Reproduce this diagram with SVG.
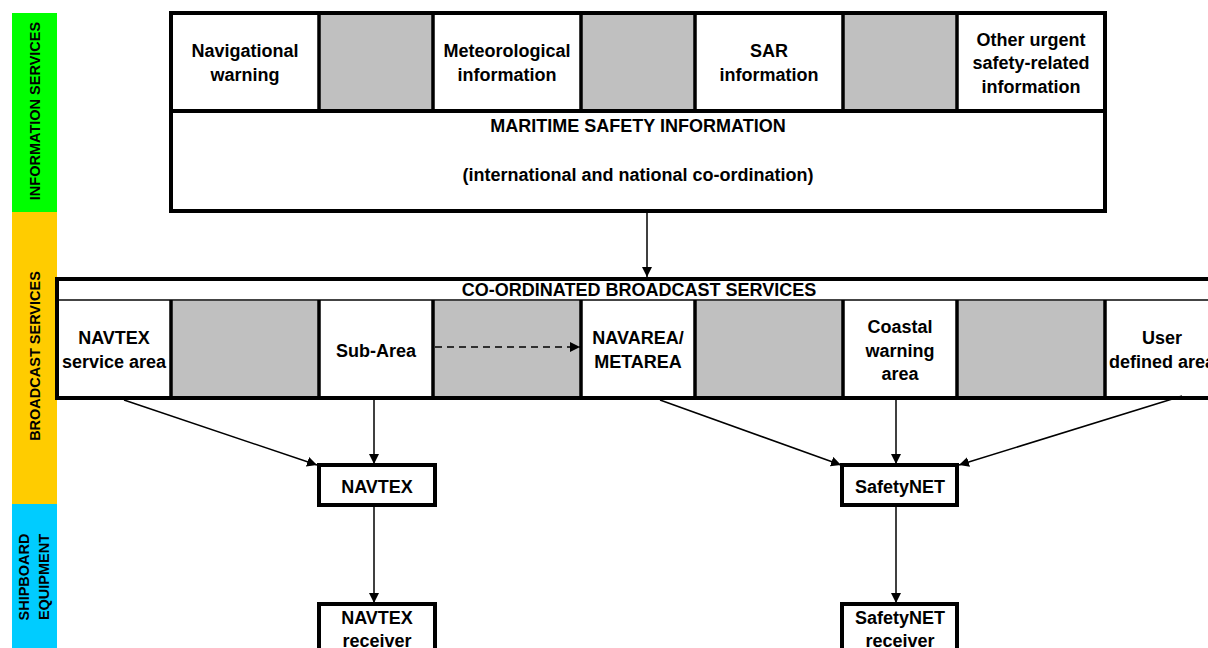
<svg xmlns="http://www.w3.org/2000/svg" width="1208" height="648" viewBox="0 0 1208 648">
<defs>
<style>
text{font-family:"Liberation Sans",Arial,sans-serif;font-weight:bold;fill:#000;text-anchor:middle}
.t{font-size:18px}
.side{font-size:14.5px}
.box{fill:#fff;stroke:#000;stroke-width:4}
.gray{fill:#c0c0c0}
.div{stroke:#000;stroke-width:3.5;fill:none}
.con{stroke:#000;stroke-width:1.5;fill:none}
</style>
<marker id="ah" viewBox="0 0 10 10" refX="10" refY="5" markerWidth="10" markerHeight="10" markerUnits="userSpaceOnUse" orient="auto">
<path d="M0,0 L10,5 L0,10 z" fill="#000"/>
</marker>
</defs>
<rect width="1208" height="648" fill="#fff"/>
<g id="bands">
<rect x="12" y="13" width="45" height="199" fill="#00ff00"/>
<rect x="12" y="212" width="45" height="292" fill="#ffcc00"/>
<rect x="12" y="504" width="45" height="144" fill="#00ccff"/>
<text class="side" transform="translate(40,111) rotate(-90)">INFORMATION SERVICES</text>
<text class="side" transform="translate(40,356) rotate(-90)">BROADCAST SERVICES</text>
<text class="side" transform="translate(29,577) rotate(-90)">SHIPBOARD</text>
<text class="side" transform="translate(49,577) rotate(-90)">EQUIPMENT</text>
</g>
<g id="msi">
<rect class="box" x="171" y="13" width="934" height="198"/>
<rect class="gray" x="319" y="13" width="114" height="98"/>
<rect class="gray" x="581" y="13" width="114" height="98"/>
<rect class="gray" x="843" y="13" width="114" height="98"/>
<path class="div" d="M319,13V111M433,13V111M581,13V111M695,13V111M843,13V111M957,13V111"/>
<path d="M171,111H1105" stroke="#000" stroke-width="4"/>
<rect x="171" y="13" width="934" height="198" fill="none" stroke="#000" stroke-width="4"/>
<text class="t" x="245" y="57">Navigational</text>
<text class="t" x="245" y="81">warning</text>
<text class="t" x="507" y="57">Meteorological</text>
<text class="t" x="507" y="81">information</text>
<text class="t" x="769" y="57">SAR</text>
<text class="t" x="769" y="81">information</text>
<text class="t" x="1031" y="46">Other urgent</text>
<text class="t" x="1031" y="69">safety-related</text>
<text class="t" x="1031" y="93">information</text>
<text class="t" x="638" y="132">MARITIME SAFETY INFORMATION</text>
<text class="t" x="638" y="181">(international and national co-ordination)</text>
</g>
<g id="broadcast">
<rect class="box" x="57" y="279" width="1165" height="119"/>
<rect class="gray" x="171" y="300" width="148" height="98"/>
<rect class="gray" x="433" y="300" width="148" height="98"/>
<rect class="gray" x="695" y="300" width="148" height="98"/>
<rect class="gray" x="957" y="300" width="148" height="98"/>
<path d="M57,300H1222" stroke="#444" stroke-width="2"/>
<path class="div" d="M171,300V398M319,300V398M433,300V398M581,300V398M695,300V398M843,300V398M957,300V398M1105,300V398" stroke-width="3"/>
<rect x="57" y="279" width="1165" height="119" fill="none" stroke="#000" stroke-width="4"/>
<text class="t" x="639" y="296">CO-ORDINATED BROADCAST SERVICES</text>
<text class="t" x="114" y="344">NAVTEX</text>
<text class="t" x="114" y="368">service area</text>
<text class="t" x="376" y="357">Sub-Area</text>
<text class="t" x="638" y="344">NAVAREA/</text>
<text class="t" x="638" y="368">METAREA</text>
<text class="t" x="900" y="333">Coastal</text>
<text class="t" x="900" y="357">warning</text>
<text class="t" x="900" y="380">area</text>
<text class="t" x="1162" y="344">User</text>
<text class="t" x="1162" y="368">defined area</text>
</g>
<g id="navtex">
<rect class="box" x="319" y="465" width="116" height="40"/>
<text class="t" x="377" y="493">NAVTEX</text>
</g>
<g id="safetynet">
<rect class="box" x="842" y="465" width="115" height="40"/>
<text class="t" x="900" y="493">SafetyNET</text>
</g>
<g id="navtex-receiver">
<rect class="box" x="319" y="604" width="116" height="60"/>
<text class="t" x="377" y="624">NAVTEX</text>
<text class="t" x="377" y="647">receiver</text>
</g>
<g id="safetynet-receiver">
<rect class="box" x="842" y="604" width="115" height="60"/>
<text class="t" x="900" y="624">SafetyNET</text>
<text class="t" x="900" y="647">receiver</text>
</g>
<g id="connectors">
<line class="con" x1="647" y1="213" x2="647" y2="277" marker-end="url(#ah)"/>
<line class="con" x1="435" y1="347" x2="580" y2="347" stroke-dasharray="7,5" marker-end="url(#ah)"/>
<line class="con" x1="124" y1="400" x2="317" y2="465" marker-end="url(#ah)"/>
<line class="con" x1="374" y1="400" x2="374" y2="464" marker-end="url(#ah)"/>
<line class="con" x1="660" y1="400" x2="841" y2="465" marker-end="url(#ah)"/>
<line class="con" x1="896" y1="400" x2="896" y2="464" marker-end="url(#ah)"/>
<line class="con" x1="1182" y1="396" x2="959" y2="465" marker-end="url(#ah)"/>
<line class="con" x1="374" y1="507" x2="374" y2="603" marker-end="url(#ah)"/>
<line class="con" x1="896" y1="507" x2="896" y2="603" marker-end="url(#ah)"/>
</g>
</svg>
